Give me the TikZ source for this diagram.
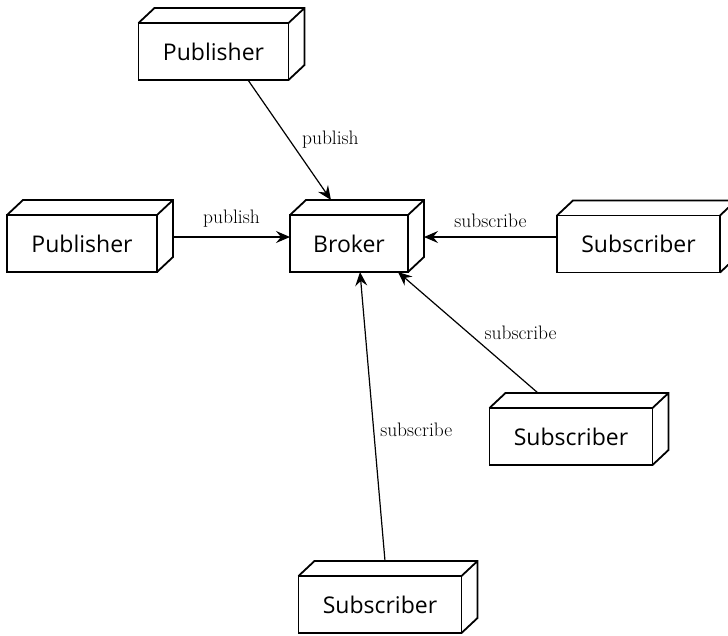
\documentclass[tikz,border=0pt]{standalone}
\usepackage{fontspec}
\newfontfamily\boxfont{Open Sans}
\usetikzlibrary{arrows.meta,calc}
\begin{document}
\begin{tikzpicture}[x=1pt,y=-1pt,
  nodebox/.style={draw, line width=1.8pt, fill=white, minimum height=57pt,
    inner sep=0pt, outer sep=0pt, font=\boxfont\fontsize{23}{23}\selectfont},
  pubbox/.style={nodebox, minimum width=150pt},
  brokerbox/.style={nodebox, minimum width=118pt},
  subbox/.style={nodebox, minimum width=163pt},
  face/.style={line width=1.8pt, line join=miter},
  link/.style={line width=1.2pt, -{Stealth[length=14pt,width=12pt,inset=5pt]}},
  lbl/.style={inner sep=0pt, font=\fontsize{19.5}{19.5}\selectfont}]

\useasboundingbox (0,0) rectangle (728,635);

% front faces of the deployment nodes
\node[pubbox]    (pubtop)   at (213.5,51.5)  {Publisher};
\node[pubbox]    (publeft)  at (82,243.5)    {Publisher};
\node[brokerbox] (broker)   at (349,243.5)   {Broker};
\node[subbox]    (subright) at (638.5,244)   {Subscriber};
\node[subbox]    (submid)   at (571,436.5)   {Subscriber};
\node[subbox]    (subbot)   at (380,604.5)   {Subscriber};

% top and side faces give each node its box look
\foreach \n in {pubtop,publeft,broker,subright,submid,subbot}{
  \draw[face] (\n.north west) -- ++(16,-15) -- ($(\n.north east)+(16,-15)$)
    -- ($(\n.south east)+(16,-15)$) -- (\n.south east)
    (\n.north east) -- ++(16,-15);
}

% message flows into the broker
\draw[link] ($(pubtop.south)+(34.5,0)$) -- ($(broker.north)+(-18,-15)$)
  node[lbl, pos=0.5, right=12pt] {publish};
\draw[link] ($(publeft.east)+(16,-6.5)$) -- ($(broker.west)+(0,-6.5)$)
  node[lbl, pos=0.5, above=9pt] {publish};
\draw[link] ($(subright.west)+(0,-7)$) -- ($(broker.east)+(16,-6.5)$)
  node[lbl, pos=0.5, above=9pt] {subscribe};
\draw[link] ($(submid.north)+(-33,-15)$) -- ($(broker.south)+(49,0)$)
  node[lbl, pos=0.5, right=16pt] {subscribe};
\draw[link] ($(subbot.north)+(5,-15)$) -- ($(broker.south)+(11,0)$)
  node[lbl, pos=0.453, right=6pt] {subscribe};
\end{tikzpicture}
\end{document}
